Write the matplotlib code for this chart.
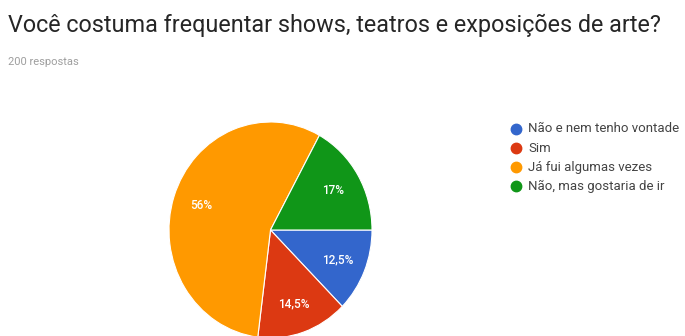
import matplotlib
matplotlib.use("Agg")
import matplotlib.pyplot as plt
from matplotlib.lines import Line2D
import numpy as np

plt.rcParams['font.family'] = ['Roboto', 'DejaVu Sans']

title = "Você costuma frequentar shows, teatros e exposições de arte?"
subtitle = "200 respostas"
categories = ["Não e nem tenho vontade", "Sim", "Já fui algumas vezes", "Não, mas gostaria de ir"]
values = [12.5, 14.5, 56, 17]
pct_labels = ["12,5%", "14,5%", "56%", "17%"]
colors = ["#3366CC", "#DC3912", "#FF9900", "#109618"]

W, H = 685, 336
fig = plt.figure(figsize=(W / 100, H / 100), dpi=100)
fig.patch.set_facecolor("white")

# Pie axes (slightly taller than wide, as in the reference)
cx, cy, rx, ry = 270.5, 230, 101.5, 108
ax = fig.add_axes([(cx - rx) / W, (H - cy - ry) / H, 2 * rx / W, 2 * ry / H])
wedges, _ = ax.pie(values, colors=colors, startangle=0, counterclock=False,
                   wedgeprops=dict(edgecolor="white", linewidth=0.8))
for w, lab in zip(wedges, pct_labels):
    ang = np.deg2rad((w.theta1 + w.theta2) / 2)
    ax.text(0.72 * np.cos(ang), 0.72 * np.sin(ang), lab, ha="center", va="center",
            color="white", fontsize=8.5, fontweight="medium")
ax.set_xlim(-1, 1)
ax.set_ylim(-1, 1)
ax.set_aspect("auto")
ax.axis("off")

# Title / subtitle
fig.text(8 / W, 1 - 32 / H, title, fontsize=16.8, color="#262626", ha="left", va="baseline")
fig.text(8 / W, 1 - 65 / H, subtitle, fontsize=8, color="#9e9e9e", ha="left", va="baseline")

# Legend
ys = [129, 148, 167, 186]
for cat, col, y in zip(categories, colors, ys):
    fig.add_artist(Line2D([516 / W], [1 - y / H], marker="o", markersize=7.5,
                          color=col, linestyle="none", transform=fig.transFigure))
    fig.text(528 / W, 1 - y / H, cat, fontsize=9.5, color="#444444", ha="left", va="center")

fig.savefig("out.png", dpi=100)
